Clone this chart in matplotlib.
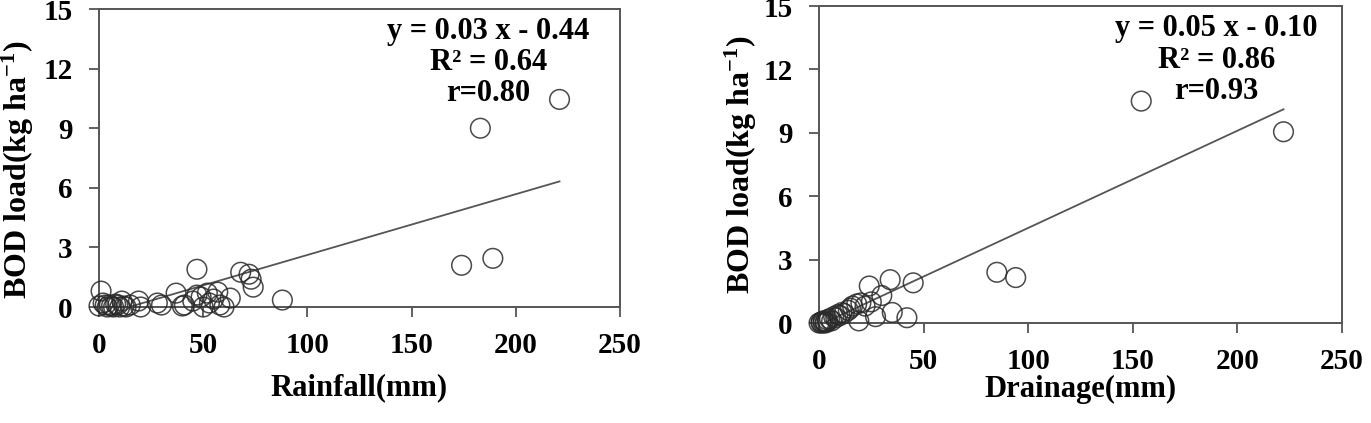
import matplotlib.pyplot as plt
import numpy as np

plt.rcParams['font.family'] = ['Liberation Serif', 'DejaVu Serif']
plt.rcParams['font.weight'] = 'bold'
plt.rcParams['mathtext.fontset'] = 'custom'
plt.rcParams['mathtext.rm'] = 'Liberation Serif:bold'
plt.rcParams['mathtext.bf'] = 'Liberation Serif:bold'
plt.rcParams['mathtext.it'] = 'Liberation Serif:bold'

# rainfall panel
rain_x = [0, 1, 2, 3, 4, 5, 6, 7, 8, 9, 10, 11, 12, 13, 15, 19, 20, 28, 30,
          37, 40, 41, 45, 47, 49, 50, 52, 53, 55, 57, 58, 60, 63,
          47, 68, 72, 73, 74, 88, 174, 189, 183, 221]
rain_bod = [0.05, 0.8, 0.2, 0.1, 0.0, 0.1, 0.05, 0.0, 0.15, 0.1, 0.0, 0.3, 0.05, 0.0, 0.1, 0.3, 0.0, 0.2, 0.1,
            0.7, 0.05, 0.1, 0.3, 0.6, 0.5, 0.0, 0.7, 0.2, 0.4, 0.75, 0.1, 0.0, 0.45,
            1.9, 1.75, 1.65, 1.4, 1.0, 0.35, 2.1, 2.45, 9.0, 10.45]
rain_fit = (0.0306, -0.44)
rain_text = 'y = 0.03 x - 0.44\nR\u00b2 = 0.64\nr=0.80'

# drainage panel
drain_x = [0, 1, 1, 2, 2, 3, 3, 4, 4, 5, 6, 7, 8, 9, 10, 11, 12, 14, 15, 16,
           18, 19, 20, 22, 25, 27, 30, 24, 34, 35, 42, 45, 85, 94, 154, 222]
drain_bod = [0.0, 0.05, 0.0, 0.1, 0.0, 0.0, 0.05, 0.15, 0.05, 0.2, 0.1, 0.3, 0.25, 0.4, 0.35, 0.5, 0.45, 0.6, 0.7, 0.8,
             0.9, 0.1, 0.95, 0.8, 1.0, 0.3, 1.3, 1.75, 2.05, 0.5, 0.25, 1.9, 2.4, 2.15, 10.5, 9.05]
drain_fit = (0.046, -0.10)
drain_text = 'y = 0.05 x - 0.10\nR\u00b2 = 0.86\nr=0.93'

ylabel = r'BOD load(kg ha$^{-1}$)'


def draw_panel(ax, xs, ys, fit, text, text_x, xlabel, xlab_y, ylab_x, ylab_y):
    ax.scatter(xs, ys, s=200, facecolors='none', edgecolors='#2a2a2a',
               linewidths=1.1, alpha=0.85, clip_on=False, zorder=3)
    xl = np.array([min(xs), max(xs)])
    ax.plot(xl, fit[0] * xl + fit[1], color='#555555', lw=1.3, zorder=2)
    ax.set_xlim(0, 250)
    ax.set_ylim(0, 15)
    ax.set_xticks(range(0, 251, 50))
    ax.set_yticks(range(0, 16, 3))
    ax.tick_params(direction='out', length=7, width=1.3, color='#555555',
                   labelsize=21)
    ax.tick_params(axis='x', pad=11)
    ax.tick_params(axis='y', pad=12)
    for s in ax.spines.values():
        s.set_color('#555555')
        s.set_linewidth(1.4)
    ax.set_xlabel(xlabel, fontsize=22, fontweight='bold', va='center')
    ax.xaxis.set_label_coords(0.5, xlab_y)
    ax.set_ylabel(ylabel, fontsize=23, fontweight='bold', va='center')
    ax.yaxis.set_label_coords(ylab_x, ylab_y)
    ax.text(text_x, 14.6, text, ha='center', va='top', multialignment='center',
            fontsize=22, fontweight='bold', linespacing=1.1)


fig = plt.figure(figsize=(13.71, 4.23), dpi=100)
ax1 = fig.add_axes([0.0722, 0.2742, 0.380, 0.7045])
ax2 = fig.add_axes([0.5974, 0.2364, 0.3815, 0.7494])

draw_panel(ax1, rain_x, rain_bod, rain_fit, rain_text, 187, 'Rainfall(mm)',
           -0.272, -0.155, 0.46)
draw_panel(ax2, drain_x, drain_bod, drain_fit, drain_text, 190, 'Drainage(mm)',
           -0.211, -0.149, 0.5)

fig.savefig('out.png', dpi=100)
